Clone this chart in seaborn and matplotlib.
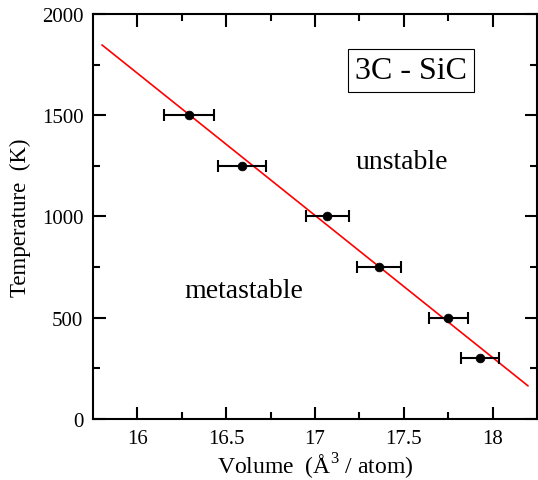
import matplotlib
matplotlib.use("Agg")
import matplotlib.pyplot as plt
import seaborn as sns
import pandas as pd
import numpy as np

volume = [16.29, 16.59, 17.07, 17.36, 17.75, 17.93]
temperature = [1500, 1250, 1000, 750, 500, 300]
volume_err = [0.14, 0.135, 0.12, 0.124, 0.11, 0.105]
fit_x = [15.80, 18.20]
fit_y = [1847, 163]

sns.set_theme(style="ticks")
plt.rcParams['font.family'] = ['Liberation Serif', 'DejaVu Serif']
plt.rcParams['mathtext.fontset'] = 'custom'
plt.rcParams['mathtext.rm'] = 'Liberation Serif'
plt.rcParams['text.color'] = 'black'
plt.rcParams['axes.labelcolor'] = 'black'
plt.rcParams['xtick.color'] = 'black'
plt.rcParams['ytick.color'] = 'black'

df = pd.DataFrame({"volume": volume, "temperature": temperature, "err": volume_err})
fit = pd.DataFrame({"x": fit_x, "y": fit_y})

fig = plt.figure(figsize=(5.38, 4.81), dpi=100)
ax = fig.add_axes([0.173, 0.127, 0.825, 0.842])

sns.lineplot(data=fit, x="x", y="y", color="red", linewidth=1.2, ax=ax)
ax.errorbar(df["volume"], df["temperature"], xerr=df["err"], fmt="none",
            ecolor="black", elinewidth=1.5, capsize=4, capthick=1.5)
sns.scatterplot(data=df, x="volume", y="temperature", color="black", s=40,
                edgecolor="black", zorder=5, ax=ax)

ax.set_xlim(15.75, 18.25)
ax.set_ylim(0, 2000)
ax.set_xticks([16, 16.5, 17, 17.5, 18])
ax.set_xticklabels(["16", "16.5", "17", "17.5", "18"])
ax.set_xticks(np.arange(16.25, 18.2, 0.5), minor=True)
ax.set_yticks([0, 500, 1000, 1500, 2000])
ax.set_yticks([250, 750, 1250, 1750], minor=True)
ax.tick_params(which="both", direction="in", top=True, right=True, width=1.5,
               labelsize=15, colors="black", pad=7)
ax.tick_params(which="major", length=9)
ax.tick_params(which="minor", length=5)
for s in ax.spines.values():
    s.set_linewidth(1.5)
    s.set_color("black")

ax.set_xlabel(r"Volume  (Å$^3$ / atom)", fontsize=17, labelpad=2)
ax.set_ylabel("Temperature  (K)", fontsize=16.5, labelpad=8)

ax.text(17.54, 1719, "3C - SiC", fontsize=23, ha="center", va="center",
        bbox=dict(boxstyle="square,pad=0.22", fc="white", ec="black", lw=0.8))
ax.text(17.49, 1269, "unstable", fontsize=20, ha="center", va="center")
ax.text(16.60, 632, "metastable", fontsize=20, ha="center", va="center")

fig.savefig("out.png", dpi=100)
